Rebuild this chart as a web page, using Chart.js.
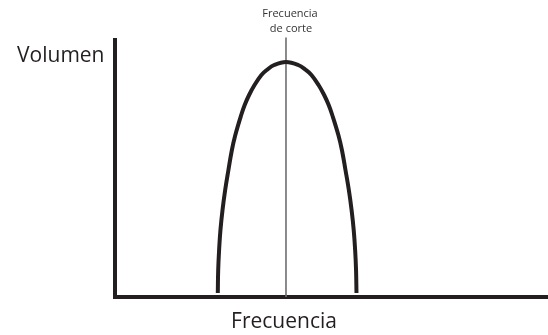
<!DOCTYPE html>
<html>
<head>
<meta charset="utf-8">
<script src="https://cdn.jsdelivr.net/npm/chart.js@4.4.1/dist/chart.umd.min.js"></script>
<style>
  html, body { margin: 0; padding: 0; background: #fff; }
  #chart { display: block; }
</style>
</head>
<body>
<canvas id="chart" width="548" height="335"></canvas>
<script>
// valores (unidades arbitrarias 0-100)
const frecuencia = [23.83, 23.92, 24.13, 24.44, 24.92, 25.53, 26.28, 27.08, 27.87, 29.23, 30.03, 31.05, 32.30, 33.89, 35.13, 36.84,
                    39.56,
                    42.38, 44.14, 45.43, 47.07, 48.36, 49.41, 50.23, 51.64, 52.46, 53.28, 54.06, 54.69, 55.18, 55.51, 55.72, 55.82];
const volumen = [1.56, 10.51, 18.29, 26.07, 33.85, 41.63, 49.42, 57.20, 63.04, 70.82, 74.71, 78.60, 82.49, 86.38, 88.33, 90.27,
                 91.44,
                 90.27, 88.33, 86.38, 82.49, 78.60, 74.71, 70.82, 63.04, 57.20, 49.42, 41.63, 33.85, 26.07, 18.29, 10.51, 1.56];
const frecuenciaCorte = 39.56;
const corteY = [0, 101];

const ink = '#231f20';

// textos dibujados sobre el canvas
const etiquetas = {
  id: 'etiquetas',
  afterDraw(chart) {
    const ctx = chart.ctx;
    const xs = chart.scales.x;
    const area = chart.chartArea;
    const cx = xs.getPixelForValue(frecuenciaCorte);
    ctx.save();
    ctx.fillStyle = ink;
    ctx.textBaseline = 'alphabetic';

    ctx.font = '21px "Open Sans"';
    ctx.textAlign = 'right';
    ctx.fillText('Volumen', area.left - 10, 62);

    ctx.textAlign = 'center';
    ctx.fillText('Frecuencia', cx - 2, 328);

    ctx.font = '11px "Open Sans"';
    ctx.fillStyle = '#333';
    ctx.fillText('Frecuencia', cx + 4, 17);
    ctx.fillText('de corte', cx + 5, 32);
    ctx.restore();
  }
};

new Chart(document.getElementById('chart'), {
  type: 'line',
  data: {
    datasets: [
      {
        data: frecuencia.map((f, i) => ({ x: f, y: volumen[i] })),
        borderColor: ink,
        borderWidth: 4,
        pointRadius: 0,
        tension: 0.4,
        fill: false
      },
      {
        data: corteY.map(v => ({ x: frecuenciaCorte, y: v })),
        borderColor: '#6d6e71',
        borderWidth: 1.6,
        pointRadius: 0,
        clip: false
      }
    ]
  },
  options: {
    responsive: false,
    animation: false,
    layout: { padding: { left: 114.5, top: 40, right: 0, bottom: 38 } },
    plugins: {
      legend: { display: false },
      tooltip: { enabled: false }
    },
    scales: {
      x: {
        type: 'linear',
        min: 0,
        max: 100,
        ticks: { display: false },
        grid: { display: false, drawTicks: false },
        border: { color: ink, width: 4 },
        afterFit: s => { s.height = 0; }
      },
      y: {
        min: 0,
        max: 100,
        ticks: { display: false },
        grid: { display: false, drawTicks: false },
        border: { color: ink, width: 4 },
        afterFit: s => { s.width = 0; }
      }
    }
  },
  plugins: [etiquetas]
});
</script>
</body>
</html>
